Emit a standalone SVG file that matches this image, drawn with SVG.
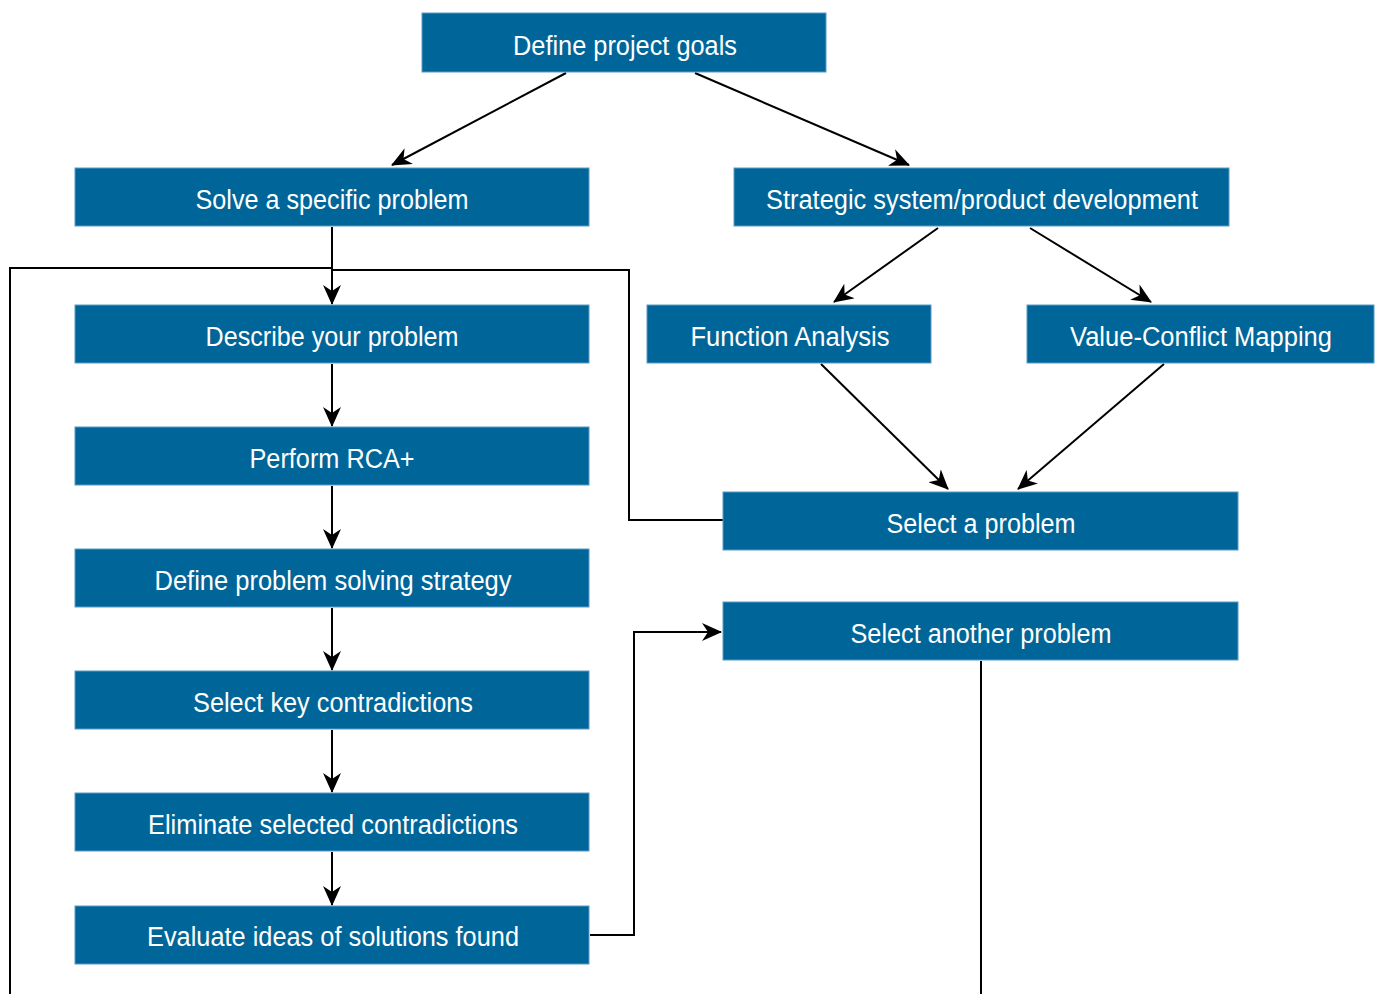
<svg xmlns="http://www.w3.org/2000/svg" width="1378" height="994" viewBox="0 0 1378 994">
  <style>
    .box { fill: #006699; stroke: #5b9bc4; stroke-width: 1; }
    .lbl { fill: #ffffff; font-family: "Liberation Sans", Arial, sans-serif; font-size: 27px; text-anchor: middle; }
    .edge { fill: none; stroke: #000000; stroke-width: 2; }
  </style>
  <defs>
    <marker id="arrow" viewBox="0 0 20 18" refX="19" refY="9" markerWidth="20" markerHeight="18" markerUnits="userSpaceOnUse" orient="auto">
      <path d="M0,0 L20,9 L0,18 L6,9 Z" fill="#000000"/>
    </marker>
  </defs>
  <rect width="1378" height="994" fill="#ffffff"/>

  <g id="connectors">
    <line class="edge" x1="566" y1="73" x2="392" y2="165" marker-end="url(#arrow)"/>
    <line class="edge" x1="695" y1="73" x2="909" y2="165" marker-end="url(#arrow)"/>
    <line class="edge" x1="332" y1="227" x2="332" y2="304" marker-end="url(#arrow)"/>
    <line class="edge" x1="938" y1="228" x2="834" y2="302" marker-end="url(#arrow)"/>
    <line class="edge" x1="1030" y1="228" x2="1151" y2="302" marker-end="url(#arrow)"/>
    <line class="edge" x1="821" y1="364" x2="948" y2="489" marker-end="url(#arrow)"/>
    <line class="edge" x1="1164" y1="364" x2="1018" y2="489" marker-end="url(#arrow)"/>
    <line class="edge" x1="332" y1="364" x2="332" y2="426" marker-end="url(#arrow)"/>
    <line class="edge" x1="332" y1="486" x2="332" y2="548" marker-end="url(#arrow)"/>
    <line class="edge" x1="332" y1="608" x2="332" y2="670" marker-end="url(#arrow)"/>
    <line class="edge" x1="332" y1="730" x2="332" y2="792" marker-end="url(#arrow)"/>
    <line class="edge" x1="332" y1="852" x2="332" y2="905" marker-end="url(#arrow)"/>
    <!-- loop back from the bottom edge into the main flow -->
    <polyline class="edge" points="10,994 10,268 332,268"/>
    <!-- "Select a problem" feeds back into the problem description -->
    <polyline class="edge" points="723,520 629,520 629,270 332,270"/>
    <!-- evaluation leads to selecting another problem -->
    <polyline class="edge" points="590,935 634,935 634,632 721,632" marker-end="url(#arrow)"/>
    <line class="edge" x1="981" y1="661" x2="981" y2="994"/>
  </g>

  <g id="define-project-goals"><rect class="box" x="422" y="13" width="404" height="59"/><text class="lbl" x="625" y="55" textLength="224" lengthAdjust="spacingAndGlyphs">Define project goals</text></g>
  <g id="solve-specific-problem"><rect class="box" x="75" y="168" width="514" height="58"/><text class="lbl" x="332" y="209" textLength="273" lengthAdjust="spacingAndGlyphs">Solve a specific problem</text></g>
  <g id="strategic-development"><rect class="box" x="734" y="168" width="495" height="58"/><text class="lbl" x="982" y="209" textLength="432" lengthAdjust="spacingAndGlyphs">Strategic system/product development</text></g>
  <g id="describe-problem"><rect class="box" x="75" y="305" width="514" height="58"/><text class="lbl" x="332" y="346" textLength="253" lengthAdjust="spacingAndGlyphs">Describe your problem</text></g>
  <g id="function-analysis"><rect class="box" x="647" y="305" width="284" height="58"/><text class="lbl" x="790" y="346" textLength="199" lengthAdjust="spacingAndGlyphs">Function Analysis</text></g>
  <g id="value-conflict-mapping"><rect class="box" x="1027" y="305" width="347" height="58"/><text class="lbl" x="1201" y="346" textLength="262" lengthAdjust="spacingAndGlyphs">Value-Conflict Mapping</text></g>
  <g id="perform-rca"><rect class="box" x="75" y="427" width="514" height="58"/><text class="lbl" x="332" y="468" textLength="165" lengthAdjust="spacingAndGlyphs">Perform RCA+</text></g>
  <g id="select-problem"><rect class="box" x="723" y="492" width="515" height="58"/><text class="lbl" x="981" y="533" textLength="189" lengthAdjust="spacingAndGlyphs">Select a problem</text></g>
  <g id="define-strategy"><rect class="box" x="75" y="549" width="514" height="58"/><text class="lbl" x="333" y="590" textLength="357" lengthAdjust="spacingAndGlyphs">Define problem solving strategy</text></g>
  <g id="select-another-problem"><rect class="box" x="723" y="602" width="515" height="58"/><text class="lbl" x="981" y="643" textLength="261" lengthAdjust="spacingAndGlyphs">Select another problem</text></g>
  <g id="select-contradictions"><rect class="box" x="75" y="671" width="514" height="58"/><text class="lbl" x="333" y="712" textLength="280" lengthAdjust="spacingAndGlyphs">Select key contradictions</text></g>
  <g id="eliminate-contradictions"><rect class="box" x="75" y="793" width="514" height="58"/><text class="lbl" x="333" y="834" textLength="370" lengthAdjust="spacingAndGlyphs">Eliminate selected contradictions</text></g>
  <g id="evaluate-solutions"><rect class="box" x="75" y="906" width="514" height="58"/><text class="lbl" x="333" y="946" textLength="372" lengthAdjust="spacingAndGlyphs">Evaluate ideas of solutions found</text></g>
</svg>
